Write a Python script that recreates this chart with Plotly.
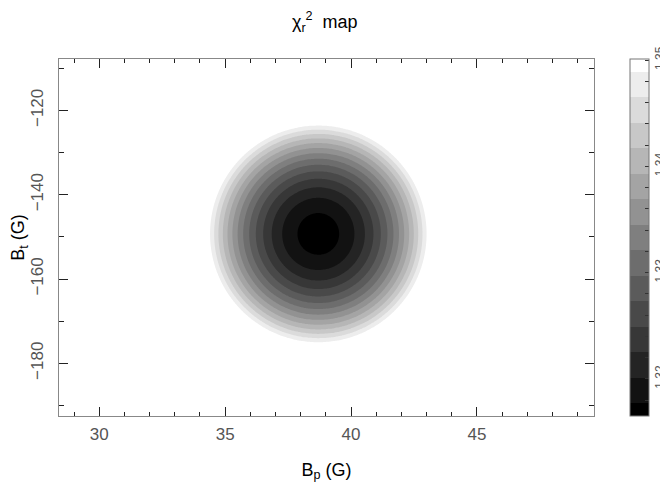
import numpy as np
import plotly.graph_objects as go

# ---- values ----
bp_range = [28.4, 49.65]          # axis extent (G)
bt_range = [-192.5, -107.8]       # axis extent (G)
bp_center = 38.7                  # location of chi2 minimum (G)
bt_center = -149.3
chi2_min = 1.3165                 # value at the minimum (bottom of colour bar)
outer_level = 1.3489              # highest contour level drawn
outer_semi_bp = 4.30              # half-width of outer contour along Bp (G)
outer_semi_bt = 25.7              # half-height of outer contour along Bt (G)
contour_start = 1.3177
contour_end = 1.3489
contour_step = 0.0024
cbar_tickvals = [1.318, 1.320, 1.322, 1.324, 1.326, 1.328, 1.330, 1.332, 1.334,
                 1.336, 1.338, 1.340, 1.342, 1.344, 1.346, 1.348, 1.350]
cbar_ticktext = ["", "1.32", "", "", "", "", "1.33", "", "", "", "", "1.34",
                 "", "", "", "", "1.35"]

# grid of the chi2 map (quadratic bowl through the read contours)
bp = np.linspace(bp_range[0], bp_range[1], 320)
bt = np.linspace(bt_range[0], bt_range[1], 320)
BP, BT = np.meshgrid(bp, bt)
depth = outer_level - chi2_min
z = chi2_min + depth * (((BP - bp_center) / outer_semi_bp) ** 2 +
                        ((BT - bt_center) / outer_semi_bt) ** 2)

font_family = "Liberation Sans, Arial, sans-serif"
label_gray = "#555555"

fig = go.Figure(go.Contour(
    x=bp, y=bt, z=z,
    contours=dict(start=contour_start, end=contour_end, size=contour_step,
                  coloring="fill"),
    line=dict(width=0),
    colorscale=[[0, "#000000"], [1, "#ffffff"]],
    colorbar=dict(
        x=1.0665, xanchor="left", y=0.5, yanchor="middle", len=1,
        xpad=0, ypad=0,
        thickness=19, outlinewidth=1, outlinecolor="#777777",
        tickmode="array", tickvals=cbar_tickvals, ticktext=cbar_ticktext,
        ticks="inside", ticklen=4, tickcolor="#333333",
        tickangle=-90,
        tickfont=dict(family=font_family, size=12, color=label_gray),
    ),
    hoverinfo="skip",
))

axis_common = dict(
    showgrid=False, zeroline=False, showline=True, linecolor="#888888",
    linewidth=1, mirror="ticks", ticks="inside", tickcolor="#222222",
    ticklen=9, tickwidth=1, automargin=False,
    tickfont=dict(family=font_family, size=17, color=label_gray),
)

fig.update_xaxes(range=bp_range, dtick=5, tick0=30,
                 minor=dict(dtick=1, ticks="inside", ticklen=4,
                            tickcolor="#222222", showgrid=False),
                 ticklabelstandoff=3,
                 title=dict(text="B<sub>p</sub> (G)", standoff=19,
                            font=dict(family=font_family, size=18, color="#000000")),
                 **axis_common)
fig.update_yaxes(range=bt_range, dtick=20, tick0=-120, tickangle=-90,
                 minor=dict(dtick=10, ticks="inside", ticklen=5,
                            tickcolor="#222222", showgrid=False),
                 ticklabelstandoff=8,
                 title=dict(text="B<sub>t</sub> (G)", standoff=6,
                            font=dict(family=font_family, size=18, color="#000000")),
                 **axis_common)

# the page body adds an 8 px margin, so the figure is 8 px smaller and its
# margins shifted to keep the plot box where the reference has it
fig.update_layout(
    width=660, height=483,
    margin=dict(l=51, r=74, t=51, b=75, autoexpand=False),
    paper_bgcolor="white", plot_bgcolor="white",
    title=dict(text="χ<sub>r</sub><sup>2</sup>  map", x=0.48, xanchor="center",
               y=0.972, yanchor="middle",
               font=dict(family=font_family, size=18, color="#000000")),
    showlegend=False,
)

fig.write_html("out.html")
